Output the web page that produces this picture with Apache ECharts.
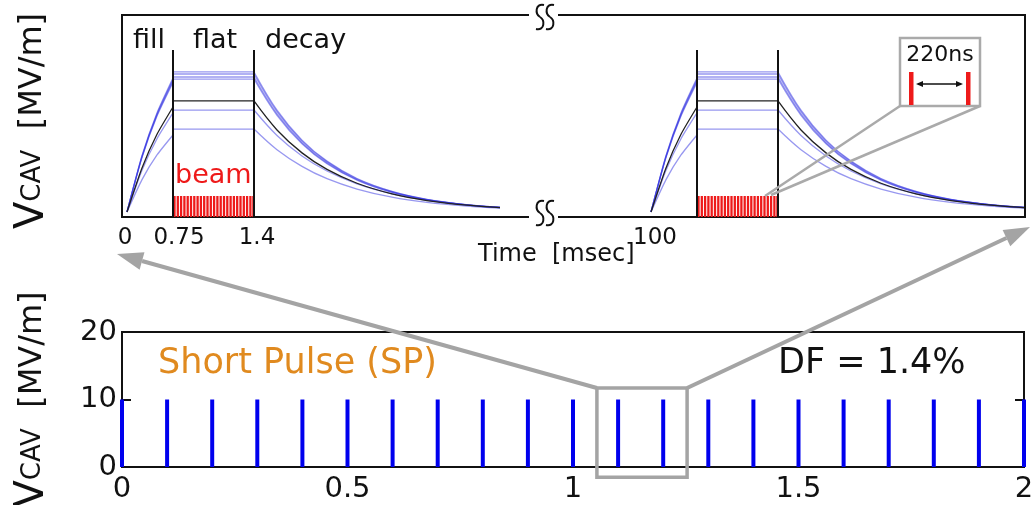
<!DOCTYPE html>
<html><head><meta charset="utf-8">
<script src="https://cdn.jsdelivr.net/npm/echarts@6/dist/echarts.min.js"></script>
<style>html,body{margin:0;padding:0;background:#fff}#c{width:1034px;height:505px}</style>
</head><body><div id="c"></div>
<script>
// ---------- TOP PANEL (schematic RF pulse on a broken time axis, display units) ----------
const pulseStarts = [5, 529];                       // fill start of pulse #1 and pulse #2
const pulseShapeX = [0, 15, 30, 46, 46, 127, 150, 175, 200, 230, 265, 300, 340, 373];
const flatEdgesX = [46, 127];                       // start / end of flat top (relative)
const topTickPos = [3, 57, 135, 533];
const topTickLabels = ['0', '0.75', '1.4', '100'];
// cavity voltage traces (MV/m, arbitrary schematic scale)
const traceA = [0.5, 6.07, 10.31, 13.76, 14.36, 14.36, 10.58, 7.61, 5.53, 3.81, 2.54, 1.75, 1.22, 0.95];
const traceB = [0.5, 6.01, 10.20, 13.61, 14.16, 14.16, 10.43, 7.51, 5.46, 3.76, 2.51, 1.73, 1.21, 0.95];
const traceC = [0.5, 5.95, 10.10, 13.47, 13.86, 13.86, 10.21, 7.35, 5.35, 3.69, 2.46, 1.71, 1.19, 0.94];
const traceD = [0.5, 5.88, 9.99, 13.32, 13.66, 13.66, 10.07, 7.25, 5.28, 3.65, 2.43, 1.69, 1.18, 0.93];
const traceE = [0.5, 4.62, 7.75, 10.30, 10.59, 10.59, 8.07, 6.04, 4.55, 3.28, 2.30, 1.66, 1.20, 0.97];
const traceF = [0.5, 3.70, 6.14, 8.12, 8.71, 8.71, 6.66, 5.01, 3.79, 2.77, 1.96, 1.44, 1.07, 0.88];
const traceMean = [0.5, 4.86, 8.19, 10.89, 11.49, 11.49, 8.62, 6.35, 4.71, 3.34, 2.29, 1.63, 1.17, 0.93];
const markerTop = 16.53;
// beam bunches (relative to fill start) and their marker height
const beamBunchX = [47.5, 50.8, 54.1, 57.4, 60.7, 64.0, 67.3, 70.6, 73.9, 77.2, 80.5, 83.8, 87.1,
                    90.4, 93.7, 97.0, 100.3, 103.6, 106.9, 110.2, 113.5, 116.8, 120.1, 123.4, 126.4];
const beamHeight = 2.08;

// ---------- BOTTOM PANEL (short pulse train) ----------
const spTimes = [0, 0.1, 0.2, 0.3, 0.4, 0.5, 0.6, 0.7, 0.8, 0.9, 1.0, 1.1, 1.2, 1.3, 1.4, 1.5, 1.6, 1.7, 1.8, 1.9, 2.0];
const spVolt  = [10, 10, 10, 10, 10, 10, 10, 10, 10, 10, 10, 10, 10, 10, 10, 10, 10, 10, 10, 10, 10];

const FONT = 'DejaVu Sans';
const INK = '#111';
const yName = '{v|V}{s|CAV}{u|  [MV/m]}';
const yNameRich = {
  v: {fontSize: 40, fontFamily: FONT, color: INK, verticalAlign: 'middle'},
  s: {fontSize: 26, fontFamily: FONT, color: INK, verticalAlign: 'middle'},
  u: {fontSize: 32, fontFamily: FONT, color: INK, verticalAlign: 'middle'}
};

const series = [];
const blueTraces = [traceA, traceB, traceC, traceD, traceE, traceF];
// each trace is drawn as fill (0..3), flat (4..5) and decay (5..13) pieces
const pieces = [[0, 4, 0.2], [4, 6, 0], [5, 14, 0.35]];
function addTrace(tr, s, color, width, z) {
  pieces.forEach(([a, b, sm]) => series.push({
    type: 'line', xAxisIndex: 0, yAxisIndex: 0, symbol: 'none', silent: true, z: z, smooth: sm,
    data: tr.slice(a, b).map((v, i) => [s + pulseShapeX[a + i], v]),
    lineStyle: {color: color, width: width}
  }));
}
pulseStarts.forEach(s => {
  blueTraces.forEach(tr => addTrace(tr, s, 'rgba(50,50,225,0.5)', 1.3, 3));
  addTrace(traceMean, s, '#222', 1.3, 4);
});
const bunchData = [];
pulseStarts.forEach(s => beamBunchX.forEach(b => bunchData.push([s + b, beamHeight])));
series.push({
  type: 'bar', xAxisIndex: 0, yAxisIndex: 0, data: bunchData, barWidth: 2.3, silent: true, z: 2,
  itemStyle: {color: '#ee1a1a'}
});
const markerLines = [];
pulseStarts.forEach(s => flatEdgesX.forEach(f => markerLines.push([{coord: [s + f, 0]}, {coord: [s + f, markerTop]}])));
series.push({
  type: 'line', xAxisIndex: 0, yAxisIndex: 0, data: [], silent: true, z: 5,
  markLine: {silent: true, symbol: ['none', 'none'], label: {show: false},
    lineStyle: {color: INK, width: 2, type: 'solid'}, emphasis: {disabled: true}, data: markerLines}
});
series.push({
  type: 'bar', xAxisIndex: 1, yAxisIndex: 1, barWidth: 4, silent: true,
  data: spTimes.map((t, i) => [t, spVolt[i]]), itemStyle: {color: '#0000ee'}
});

const option = {
  animation: false,
  textStyle: {fontFamily: FONT},
  grid: [
    {left: 122, top: 15, width: 903, height: 202, show: true, borderColor: INK, borderWidth: 2,
     backgroundColor: 'transparent', containLabel: false, outerBoundsMode: 'none'},
    {left: 122, top: 332, width: 902, height: 135, show: true, borderColor: INK, borderWidth: 2,
     backgroundColor: 'transparent', containLabel: false, outerBoundsMode: 'none'}
  ],
  xAxis: [
    {type: 'value', gridIndex: 0, min: 0, max: 903,
     axisLine: {show: false}, axisTick: {show: false}, splitLine: {show: false},
     axisLabel: {customValues: topTickPos, fontSize: 23, color: INK, margin: 10, fontFamily: FONT,
       formatter: v => { const k = topTickPos.indexOf(v); return k >= 0 ? topTickLabels[k] : ''; }}},
    {type: 'value', gridIndex: 1, min: 0, max: 2, interval: 0.5,
     axisLine: {show: true, lineStyle: {color: INK, width: 2}}, axisTick: {show: false}, splitLine: {show: false},
     axisLabel: {fontSize: 29, color: INK, margin: 8, fontFamily: FONT}}
  ],
  yAxis: [
    {type: 'value', gridIndex: 0, min: 0, max: 20,
     axisLine: {show: false}, axisTick: {show: false}, axisLabel: {show: false}, splitLine: {show: false},
     name: yName, nameLocation: 'middle', nameRotate: 90, nameGap: 69,
     nameTextStyle: {rich: yNameRich, padding: [0, 10, 0, 0]}},
    {type: 'value', gridIndex: 1, min: 0, max: 20, interval: 10,
     axisLine: {show: true, lineStyle: {color: INK, width: 2}},
     axisTick: {show: true, inside: true, length: 9, lineStyle: {color: INK, width: 2}},
     axisLabel: {fontSize: 29, color: INK, margin: 5, fontFamily: FONT}, splitLine: {show: false},
     name: yName, nameLocation: 'middle', nameRotate: 90, nameGap: 69, nameTextStyle: {rich: yNameRich}},
    {type: 'value', gridIndex: 1, position: 'right', min: 0, max: 20, interval: 10,
     axisLine: {show: false}, axisTick: {show: true, inside: true, length: 9, lineStyle: {color: INK, width: 2}},
     axisLabel: {show: false}, splitLine: {show: false}}
  ],
  series: series
};

const chart = echarts.init(document.getElementById('c'), null, {renderer: 'canvas'});
chart.setOption(option);

// ---------- annotations ----------
const G = '#a4a4a4';
const px = (g, v) => chart.convertToPixel({gridIndex: g}, v);
function txt(x, y, s, size, color, align) {
  return {type: 'text', x: x, y: y, z: 120, silent: true,
    style: {text: s, fontSize: size, fontFamily: FONT, fill: color,
      align: align || 'left', verticalAlign: 'middle', textAlign: align || 'left', textVerticalAlign: 'middle'}};
}
function bigArrow(x0, y0, x1, y1) {
  const dx = x1 - x0, dy = y1 - y0, L = Math.hypot(dx, dy), ux = dx / L, uy = dy / L;
  const hl = 26, hw = 9, bx = x1 - ux * hl, by = y1 - uy * hl;
  return [
    {type: 'line', z: 100, silent: true, shape: {x1: x0, y1: y0, x2: bx, y2: by}, style: {stroke: G, lineWidth: 4}},
    {type: 'polygon', z: 100, silent: true, shape: {points: [[x1, y1], [bx - uy * hw, by + ux * hw], [bx + uy * hw, by - ux * hw]]}, style: {fill: G}}
  ];
}
function breakMark(cy) {
  const els = [{type: 'rect', z: 110, silent: true, shape: {x: 529, y: cy - 5, width: 29, height: 10}, style: {fill: '#fff'}}];
  [540, 550].forEach(cx => {
    els.push({type: 'bezierCurve', z: 111, silent: true,
      shape: {x1: cx + 4, y1: cy - 12, cpx1: cx - 5, cpy1: cy - 14, cpx2: cx - 5, cpy2: cy - 3, x2: cx, y2: cy},
      style: {stroke: INK, lineWidth: 2, fill: null}});
    els.push({type: 'bezierCurve', z: 111, silent: true,
      shape: {x1: cx, y1: cy, cpx1: cx + 5, cpy1: cy + 3, cpx2: cx + 5, cpy2: cy + 14, x2: cx - 4, y2: cy + 12},
      style: {stroke: INK, lineWidth: 2, fill: null}});
  });
  return els;
}

const boxTL = px(1, [1.053, 11.7]);
const boxBR = px(1, [1.253, -1.5]);
const beamTop = px(0, [pulseStarts[1] + 118, beamHeight]);
const g = [];
// zoom box in bottom panel
g.push({type: 'rect', z: 100, silent: true, shape: {x: boxTL[0], y: boxTL[1], width: boxBR[0] - boxTL[0], height: boxBR[1] - boxTL[1]},
  style: {stroke: G, lineWidth: 3.5, fill: null}});
g.push(...bigArrow(boxTL[0], boxTL[1], 117, 254));
g.push(...bigArrow(boxBR[0], boxTL[1], 1030, 227));
// axis breaks
g.push(...breakMark(17), ...breakMark(213));
// inset of bunch spacing
g.push({type: 'line', z: 100, silent: true, shape: {x1: 900, y1: 106, x2: beamTop[0] - 4, y2: beamTop[1]}, style: {stroke: '#aaa', lineWidth: 2.5}});
g.push({type: 'line', z: 100, silent: true, shape: {x1: 980, y1: 106, x2: beamTop[0] + 2, y2: beamTop[1] - 1}, style: {stroke: '#aaa', lineWidth: 2.5}});
g.push({type: 'rect', z: 101, silent: true, shape: {x: 900, y: 38, width: 80, height: 68}, style: {stroke: '#aaa', lineWidth: 2.5, fill: '#fff'}});
g.push({type: 'rect', z: 102, silent: true, shape: {x: 909, y: 72, width: 4.5, height: 33}, style: {fill: '#ee1a1a'}});
g.push({type: 'rect', z: 102, silent: true, shape: {x: 966, y: 72, width: 4.5, height: 33}, style: {fill: '#ee1a1a'}});
g.push({type: 'line', z: 102, silent: true, shape: {x1: 918, y1: 84, x2: 961, y2: 84}, style: {stroke: INK, lineWidth: 1.5}});
g.push({type: 'polygon', z: 102, silent: true, shape: {points: [[916, 84], [923, 81], [923, 87]]}, style: {fill: INK}});
g.push({type: 'polygon', z: 102, silent: true, shape: {points: [[963, 84], [956, 81], [956, 87]]}, style: {fill: INK}});
g.push(txt(940, 55, '220ns', 22, INK, 'center'));
// phase labels
g.push(txt(133, 41, 'fill', 27, INK));
g.push(txt(193, 41, 'flat', 27, INK));
g.push(txt(265, 41, 'decay', 27, INK));
g.push(txt(175, 176, 'beam', 27, '#ee1a1a'));
g.push(txt(478, 255, 'Time  [msec]', 24, INK));
g.push(txt(158, 364, 'Short Pulse (SP)', 35, '#e08a1f'));
g.push(txt(778, 364, 'DF = 1.4%', 35, INK));
chart.setOption({graphic: {elements: g}});
</script>
</body></html>
